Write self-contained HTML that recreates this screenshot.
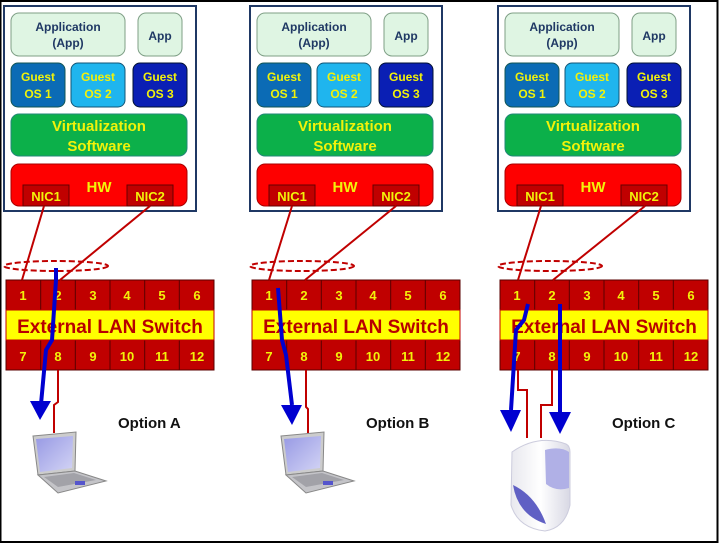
<!DOCTYPE html>
<html><head><meta charset="utf-8"><style>
html,body{margin:0;padding:0;background:#fff}
svg{display:block;font-family:"Liberation Sans",Arial,sans-serif;font-weight:bold}
</style></head><body>
<svg width="719" height="544" viewBox="0 0 719 544" xmlns="http://www.w3.org/2000/svg">
<defs>
<g id="vm">
  <rect x="4" y="6" width="192" height="205" fill="#fff" stroke="#1f3864" stroke-width="2"/>
  <rect x="11" y="13" width="114" height="43" rx="8" fill="#dff5e3" stroke="#7f9f86"/>
  <text x="68" y="31" font-size="12" fill="#1f3864" text-anchor="middle">Application</text>
  <text x="68" y="47" font-size="12" fill="#1f3864" text-anchor="middle">(App)</text>
  <rect x="138" y="13" width="44" height="43" rx="8" fill="#dff5e3" stroke="#7f9f86"/>
  <text x="160" y="40" font-size="12" fill="#1f3864" text-anchor="middle">App</text>
  <rect x="11" y="63" width="54" height="44" rx="7" fill="#0b6bb5" stroke="#155"/>
  <rect x="71" y="63" width="54" height="44" rx="7" fill="#1fb5ee" stroke="#157"/>
  <rect x="133" y="63" width="54" height="44" rx="7" fill="#0a1fb4" stroke="#013"/>
  <g font-size="12" fill="#f2f20a" text-anchor="middle">
  <text x="38" y="81">Guest</text><text x="38" y="98">OS 1</text>
  <text x="98" y="81">Guest</text><text x="98" y="98">OS 2</text>
  <text x="160" y="81">Guest</text><text x="160" y="98">OS 3</text>
  </g>
  <rect x="11" y="114" width="176" height="42" rx="8" fill="#0cb04a" stroke="#287"/>
  <text x="99" y="131" font-size="15" fill="#f2f20a" text-anchor="middle">Virtualization</text>
  <text x="99" y="151" font-size="15" fill="#f2f20a" text-anchor="middle">Software</text>
  <rect x="11" y="164" width="176" height="42" rx="8" fill="#fe0000" stroke="#a00"/>
  <text x="99" y="192" font-size="15" fill="#f2f20a" text-anchor="middle">HW</text>
  <rect x="23" y="185" width="46" height="21" fill="#c00000" stroke="#600"/>
  <rect x="127" y="185" width="46" height="21" fill="#c00000" stroke="#600"/>
  <text x="46" y="201" font-size="13" fill="#f2f20a" text-anchor="middle">NIC1</text>
  <text x="150" y="201" font-size="13" fill="#f2f20a" text-anchor="middle">NIC2</text>
</g>
<g id="sw">
  <rect x="6" y="280" width="208" height="90" fill="#c00000" stroke="#5a0000"/>
  <g stroke="#5a0000">
  <line x1="40.7" y1="280" x2="40.7" y2="370"/><line x1="75.3" y1="280" x2="75.3" y2="370"/>
  <line x1="110" y1="280" x2="110" y2="370"/><line x1="144.7" y1="280" x2="144.7" y2="370"/>
  <line x1="179.3" y1="280" x2="179.3" y2="370"/>
  </g>
  <rect x="6" y="310" width="208" height="30" fill="#ffff00" stroke="#c00000"/>
  <text x="110" y="333" font-size="19" fill="#b80000" text-anchor="middle">External LAN Switch</text>
  <g font-size="13" fill="#f2f20a" text-anchor="middle">
  <text x="23" y="300">1</text><text x="58" y="300">2</text><text x="93" y="300">3</text><text x="127" y="300">4</text><text x="162" y="300">5</text><text x="197" y="300">6</text>
  <text x="23" y="361">7</text><text x="58" y="361">8</text><text x="93" y="361">9</text><text x="127" y="361">10</text><text x="162" y="361">11</text><text x="197" y="361">12</text>
  </g>
  <ellipse cx="56" cy="266" rx="52" ry="5" fill="none" stroke="#c00000" stroke-width="2" stroke-dasharray="6,3"/>
</g>
<linearGradient id="scr" x1="0" y1="0" x2="1" y2="1"><stop offset="0" stop-color="#9799e4"/><stop offset="1" stop-color="#d3d4f5"/></linearGradient>
<linearGradient id="srv" x1="0" y1="0" x2="1" y2="0"><stop offset="0" stop-color="#e8e8ee"/><stop offset="0.5" stop-color="#fff"/><stop offset="1" stop-color="#d8d8e4"/></linearGradient>
<g id="lap">
  <polygon points="33,436 76,432 75,471 38,475" fill="#ccc" stroke="#888"/>
  <polygon points="36,439 73,436 72,468 40,472" fill="url(#scr)"/>
  <polygon points="38,475 75,471 106,481 58,493" fill="#c4c4c8" stroke="#888"/>
  <polygon points="44,477 74,473 96,480 58,487" fill="#a2a2a8"/>
  <rect x="75" y="481" width="10" height="4" fill="#55c"/>
</g>
</defs>
<rect x="0.5" y="1" width="717" height="541" fill="#fff" stroke="#000" stroke-width="2"/>
<use href="#vm"/><use href="#vm" x="246"/><use href="#vm" x="494"/>
<use href="#sw"/><use href="#sw" x="246"/><use href="#sw" x="494"/>
<g stroke="#c00000" stroke-width="2" fill="none">
  <line x1="44" y1="206" x2="22" y2="280"/><line x1="150" y1="206" x2="60" y2="280"/>
  <polyline points="58,370 58,402 54,405 54,433"/>
  <line x1="292" y1="206" x2="269" y2="280"/><line x1="396" y1="206" x2="305" y2="280"/>
  <polyline points="306,370 306,407 308,409 308,433"/>
  <line x1="541" y1="206" x2="518" y2="280"/><line x1="645" y1="206" x2="553" y2="280"/>
  <polyline points="518,370 518,390 527,390 527,438"/>
  <polyline points="552,370 552,405 541,405 541,438"/>
</g>
<g stroke="#0000d0" stroke-width="4" fill="none">
  <polyline points="56,268 56,280 52,340 46,350 41,404"/>
  <polyline points="278,288 282,340 286,355 292,405"/>
  <polyline points="528,304 524,320 516,330 511,410"/>
  <line x1="560" y1="304" x2="560" y2="412"/>
</g>
<g fill="#0000d0">
  <polygon points="30,401 51,401 40,420"/>
  <polygon points="281,405 302,405 292,425"/>
  <polygon points="500,410 521,410 511,432"/>
  <polygon points="549,412 571,412 560,434"/>
</g>
<use href="#lap"/><use href="#lap" x="248"/>
<g>
  <path d="M512,452 Q538,434 566,444 Q570,446 570,452 L570,505 Q565,528 545,531 Q518,528 511,505 Z" fill="url(#srv)" stroke="#ccd"/>
  <path d="M513,485 Q518,515 546,524 Q536,496 513,485 Z" fill="#6060c4"/>
  <path d="M545,450 Q560,446 569,452 L569,488 Q556,492 546,484 Z" fill="#b0b0e6"/>
</g>
<text x="118" y="428" font-size="15" fill="#111">Option A</text>
<text x="366" y="428" font-size="15" fill="#111">Option B</text>
<text x="612" y="428" font-size="15" fill="#111">Option C</text>
</svg>
</body></html>
